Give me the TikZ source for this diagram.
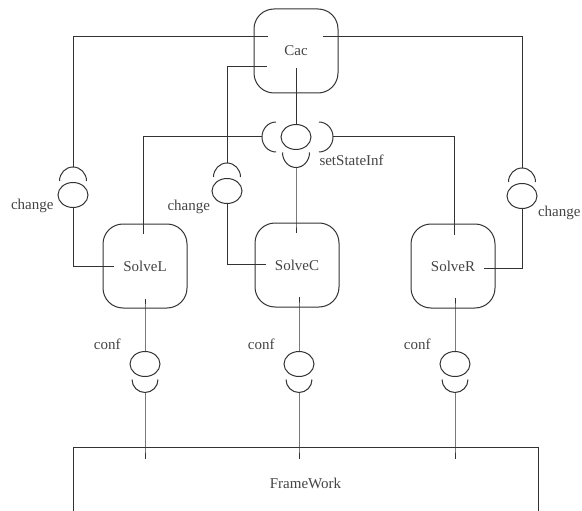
\documentclass[tikz,border=0pt]{standalone}
\usepackage{fontspec}
\setmainfont{Liberation Serif}
\usepackage{tikz}
\usetikzlibrary{positioning, shapes.geometric}
\definecolor{linec}{HTML}{333333}
\definecolor{txtc}{HTML}{444444}

\begin{document}
\begin{tikzpicture}[x=1pt, y=-1pt, line width=1pt, color=linec,
      font=\fontsize{15}{18}\selectfont,
      comp/.style={draw, rounded corners=20pt, minimum width=84pt,
                   minimum height=84pt, inner sep=0pt, text=txtc},
      ball/.style={draw, ellipse, minimum width=30pt, minimum height=25pt,
                   inner sep=0pt},
      lbl/.style={text=txtc, inner sep=0pt}]
    \clip (0,0) rectangle (582,511);

    % components
    \node[comp] (cac)    at (296,51)  {Cac};
    \node[comp] (solveL) at (145,266) {SolveL};
    \node[comp] (solveC) at (297,265) {SolveC};
    \node[comp] (solveR) at (453,266) {SolveR};
    \node[draw, minimum width=465pt, minimum height=72pt, anchor=north,
          text=txtc] (fw) at (305.5,447) {FrameWork};

    % provided interfaces
    \node[ball] (setB) at (296,137) {};
    \node[ball] (chL)  at (73,195)  {};
    \node[ball] (chC)  at (227,191) {};
    \node[ball] (chR)  at (522,196) {};
    \node[ball] (cfL)  at (145,364) {};
    \node[ball] (cfC)  at (299,364) {};
    \node[ball] (cfR)  at (455,364) {};

    % required interfaces (sockets)
    \draw ([xshift=-4.5pt,yshift=15pt]setB.west)
      arc[start angle=90, end angle=270, x radius=14pt, y radius=15pt];
    \draw ([xshift=7.5pt,yshift=15pt]setB.east)
      arc[start angle=90, end angle=-90, x radius=14pt, y radius=15pt];
    \draw ([xshift=-13.5pt,yshift=-2.5pt]setB.south)
      arc[start angle=180, end angle=360, x radius=13.5pt, y radius=15pt];
    \coordinate (sockL) at ([xshift=-18.5pt]setB.west);
    \coordinate (sockR) at ([xshift=21.5pt]setB.east);
    \coordinate (sockB) at ([yshift=-17.5pt]setB.south);

    \draw ([xshift=-13.5pt,yshift=1pt]chL.north)
      arc[start angle=180, end angle=0, x radius=13.5pt, y radius=14pt];
    \draw ([xshift=-13.5pt,yshift=1pt]chC.north)
      arc[start angle=180, end angle=0, x radius=13.5pt, y radius=14pt];
    \draw ([xshift=-13.5pt,yshift=1pt]chR.north)
      arc[start angle=180, end angle=0, x radius=13.5pt, y radius=14pt];
    \coordinate (chLs) at ([yshift=15pt]chL.north);
    \coordinate (chCs) at ([yshift=15pt]chC.north);
    \coordinate (chRs) at ([yshift=15pt]chR.north);

    \draw ([xshift=-13pt,yshift=-2.5pt]cfL.south)
      arc[start angle=180, end angle=360, x radius=13pt, y radius=13pt];
    \draw ([xshift=-13pt,yshift=-2.5pt]cfC.south)
      arc[start angle=180, end angle=360, x radius=13pt, y radius=13pt];
    \draw ([xshift=-13pt,yshift=-2.5pt]cfR.south)
      arc[start angle=180, end angle=360, x radius=13pt, y radius=13pt];
    \coordinate (cfLs) at ([yshift=-15.5pt]cfL.south);
    \coordinate (cfCs) at ([yshift=-15.5pt]cfC.south);
    \coordinate (cfRs) at ([yshift=-15.5pt]cfR.south);

    % connectors
    \draw ([xshift=14pt,yshift=14pt]cac.west) -| (chLs);
    \draw ([xshift=13pt,yshift=-16pt]cac.west) -| (chCs);
    \draw ([xshift=-16pt,yshift=14pt]cac.east) -| (chRs);
    \draw ([yshift=25pt]cac.south) -- (setB.north);

    \draw (sockL) -| ([xshift=-2pt,yshift=-10pt]solveL.north);
    \draw (sockR) -| ([xshift=1pt,yshift=-11pt]solveR.north);
    \draw (sockB) -- (sockB |- solveC.north) -- ++(0,10);

    \draw (chL.south) |- ([xshift=11pt]solveL.west);
    \draw (chC.south) |- ([xshift=11pt,yshift=1pt]solveC.west);
    \draw (chR.south) |- ([xshift=-12pt,yshift=-2pt]solveR.east);

    \draw (cfL.north) -- (cfL.north |- solveL.south) -- ++(0,-10);
    \draw (cfC.north) -- (cfC.north |- solveC.south) -- ++(0,-11);
    \draw (cfR.north) -- (cfR.north |- solveR.south) -- ++(0,-11);
    \draw (cfLs) -- (cfLs |- fw.north) -- ++(0,12);
    \draw (cfCs) -- (cfCs |- fw.north) -- ++(0,12);
    \draw (cfRs) -- (cfRs |- fw.north) -- ++(0,12);

    % labels
    \node[lbl, anchor=west] at ([xshift=7.5pt,yshift=-23pt]setB.east) {setStateInf};
    \node[lbl, anchor=east] at ([xshift=-3.5pt,yshift=-11pt]chL.west) {change};
    \node[lbl, anchor=east] at ([xshift=-1pt,yshift=-16pt]chC.west) {change};
    \node[lbl, anchor=west] at ([yshift=-17pt]chR.east) {change};
    \node[lbl, anchor=east] at ([xshift=-8.5pt,yshift=20pt]cfL.west) {conf};
    \node[lbl, anchor=east] at ([xshift=-8.5pt,yshift=20pt]cfC.west) {conf};
    \node[lbl, anchor=east] at ([xshift=-8.5pt,yshift=20pt]cfR.west) {conf};
  \end{tikzpicture}
\end{document}
